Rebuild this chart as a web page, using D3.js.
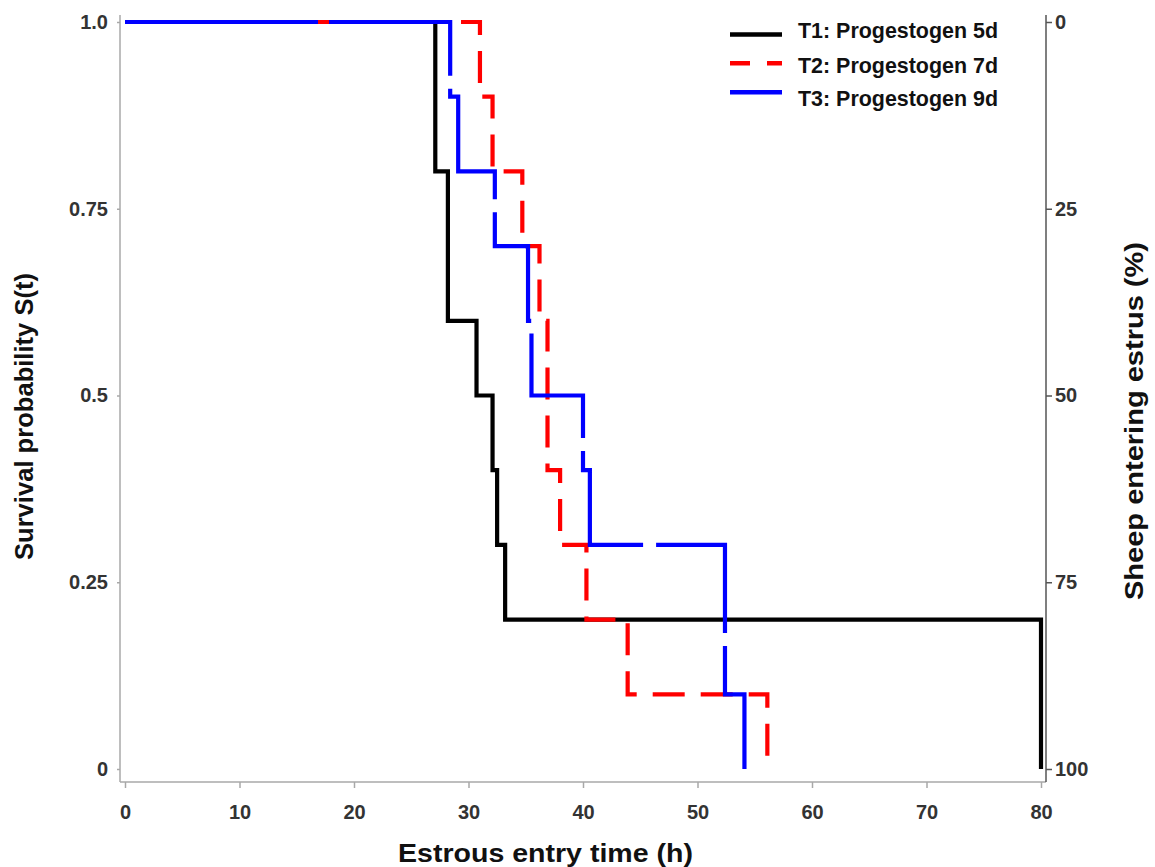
<!DOCTYPE html>
<html>
<head>
<meta charset="utf-8">
<script src="https://cdn.jsdelivr.net/npm/d3@7"></script>
<style>
html,body{margin:0;padding:0;background:#fff;}
svg{display:block;font-family:"Liberation Sans",Arial,sans-serif;}
</style>
</head>
<body>
<svg id="chart" width="1155" height="867"></svg>
<script>
// ---- data ----
const seriesNames = ["T1: Progestogen 5d", "T2: Progestogen 7d", "T3: Progestogen 9d"];
const t1Time = [0, 27.1, 28.2, 30.7, 32.1, 32.5, 33.2, 80];
const t1Surv = [1.0, 0.8, 0.6, 0.5, 0.4, 0.3, 0.2, 0.0];
const t2Time = [0, 31.0, 32.1, 34.7, 36.2, 36.9, 38.0, 40.3, 43.9, 56.1];
const t2Surv = [1.0, 0.9, 0.8, 0.7, 0.6, 0.4, 0.3, 0.2, 0.1, 0.0];
const t3Time = [0, 28.4, 29.1, 32.3, 35.2, 35.5, 40.0, 40.6, 52.4, 54.1];
const t3Surv = [1.0, 0.9, 0.8, 0.7, 0.6, 0.5, 0.4, 0.3, 0.1, 0.0];
const xTicks = [0, 10, 20, 30, 40, 50, 60, 70, 80];
const yTicks = [0, 0.25, 0.5, 0.75, 1.0];
const yTickLabels = ["0", "0.25", "0.5", "0.75", "1.0"];
const y2Ticks = [0, 25, 50, 75, 100];

const colors = ["#000000", "#ff0000", "#0000ff"];
const dashes = [null, "32,16",
  "193,11,175,13,155,13,145,13,156,13,154,13,157,13,155,13,155,13,155,13,155,13,155,13"];

const svg = d3.select("#chart");
const x = d3.scaleLinear().domain([0, 80]).range([125, 1041]);
const y = d3.scaleLinear().domain([0, 1]).range([769, 22]);
const y2 = d3.scaleLinear().domain([0, 100]).range([22, 769]);

const frameL = 120, frameR = 1046, frameT = 15, frameB = 782;
const gridCol = "#a8a8a8";
const tickFont = "Liberation Sans, Arial, sans-serif";

// frame lines
svg.append("line").attr("x1", frameL).attr("x2", frameL).attr("y1", frameT).attr("y2", frameB)
  .attr("stroke", gridCol).attr("stroke-width", 1.5);
svg.append("line").attr("x1", frameL).attr("x2", frameR).attr("y1", frameB).attr("y2", frameB)
  .attr("stroke", gridCol).attr("stroke-width", 1.5);
svg.append("line").attr("x1", frameR).attr("x2", frameR).attr("y1", frameT).attr("y2", frameB)
  .attr("stroke", "#555").attr("stroke-width", 1.5);

function styleTicks(g, lineCol) {
  g.select(".domain").remove();
  g.selectAll("line").attr("stroke", lineCol).attr("stroke-width", 1.5);
  g.selectAll("text").attr("font-size", 20).attr("font-weight", "bold")
    .attr("fill", "#333").attr("font-family", tickFont);
}

// left axis
const gL = svg.append("g").attr("transform", `translate(${frameL},0)`)
  .call(d3.axisLeft(y).tickValues(yTicks).tickFormat((d, i) => yTickLabels[i]).tickSize(3).tickPadding(9));
styleTicks(gL, gridCol);

// bottom axis
const gB = svg.append("g").attr("transform", `translate(0,${frameB})`)
  .call(d3.axisBottom(x).tickValues(xTicks).tickFormat(d3.format("d")).tickSize(6).tickPadding(17));
styleTicks(gB, gridCol);

// right axis
const gR = svg.append("g").attr("transform", `translate(${frameR},0)`)
  .call(d3.axisRight(y2).tickValues(y2Ticks).tickFormat(d3.format("d")).tickSize(6).tickPadding(3));
styleTicks(gR, "#555");

// curves
const series = [
  t1Time.map((t, i) => [t, t1Surv[i]]),
  t2Time.map((t, i) => [t, t2Surv[i]]),
  t3Time.map((t, i) => [t, t3Surv[i]])
];
const line = d3.line().x(d => x(d[0])).y(d => y(d[1])).curve(d3.curveStepAfter);
series.forEach((s, i) => {
  const p = svg.append("path").attr("d", line(s)).attr("fill", "none")
    .attr("stroke", colors[i]).attr("stroke-width", 4.2).attr("stroke-linejoin", "miter")
    .attr("stroke-linecap", "butt");
  if (dashes[i]) p.attr("stroke-dasharray", dashes[i]);
});

// legend
const legLineY = [34.5, 63.3, 92.2];
const legTextY = [38, 72.5, 106];
seriesNames.forEach((name, i) => {
  const l = svg.append("line").attr("x1", 730).attr("x2", 782).attr("y1", legLineY[i]).attr("y2", legLineY[i])
    .attr("stroke", colors[i]).attr("stroke-width", 4.5);
  if (i === 1) l.attr("stroke-dasharray", "20,17");
  svg.append("text").attr("x", 798).attr("y", legTextY[i]).text(name)
    .attr("font-size", 22).attr("font-weight", "bold").attr("fill", "#111")
    .attr("textLength", 200).attr("lengthAdjust", "spacingAndGlyphs");
});

// axis titles
svg.append("text").attr("x", 398).attr("y", 862).text("Estrous entry time (h)")
  .attr("font-size", 26).attr("font-weight", "bold").attr("fill", "#111")
  .attr("textLength", 295).attr("lengthAdjust", "spacingAndGlyphs");
svg.append("text").attr("transform", "translate(33,560) rotate(-90)").text("Survival probability S(t)")
  .attr("font-size", 26).attr("font-weight", "bold").attr("fill", "#111")
  .attr("textLength", 287).attr("lengthAdjust", "spacingAndGlyphs");
svg.append("text").attr("transform", "translate(1143,600) rotate(-90)").text("Sheep entering estrus (%)")
  .attr("font-size", 26).attr("font-weight", "bold").attr("fill", "#111")
  .attr("textLength", 358).attr("lengthAdjust", "spacingAndGlyphs");
</script>
</body>
</html>
